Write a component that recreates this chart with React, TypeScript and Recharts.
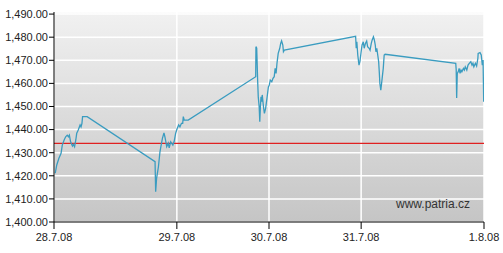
import React from "react";
import {
  CartesianGrid,
  Line,
  LineChart,
  ReferenceLine,
  XAxis,
  YAxis,
} from "recharts";

// x is in chart "slots": 28.7 at 0, 29.7 at 4, 30.7 at 7, 31.7 at 10, 1.8 at 14
const dayTicks = [0, 4, 7, 10, 14];
const dayLabels = ["28.7.08", "29.7.08", "30.7.08", "31.7.08", "1.8.08"];
const priceTicks = [1400, 1410, 1420, 1430, 1440, 1450, 1460, 1470, 1480, 1490];
const referencePrice = 1434;

const times = [
  0.04, 0.09, 0.16, 0.23, 0.27, 0.33, 0.38, 0.43, 0.47, 0.5, 0.54, 0.6, 0.63,
  0.67, 0.71, 0.74, 0.79, 0.85, 0.88, 0.91, 0.93, 1.08,
  3.29, 3.31, 3.34, 3.4, 3.45, 3.48, 3.53, 3.58, 3.61, 3.67, 3.72, 3.75, 3.8,
  3.87, 3.91, 3.96, 4.01, 4.06, 4.1, 4.15, 4.19, 4.21, 4.24, 4.37,
  6.567, 6.575, 6.6, 6.63, 6.65, 6.68, 6.7, 6.72, 6.74, 6.76, 6.78, 6.82, 6.85,
  6.89, 6.94, 6.98, 7.01, 7.04, 7.09, 7.13, 7.17, 7.2, 7.23, 7.26, 7.3, 7.35,
  7.38, 7.41, 7.45, 7.47, 7.5,
  9.82, 9.84, 9.86, 9.89, 9.93, 9.96, 10.0, 10.03, 10.07, 10.1, 10.14, 10.18,
  10.21, 10.26, 10.29, 10.33, 10.36, 10.4, 10.43, 10.46, 10.48, 10.51, 10.54,
  10.57, 10.59, 10.61, 10.64, 10.66, 10.69, 10.72, 10.75, 10.78,
  13.08, 13.095, 13.11, 13.13, 13.16, 13.19, 13.22, 13.25, 13.28, 13.33, 13.36,
  13.39, 13.44, 13.48, 13.52, 13.57, 13.61, 13.64, 13.67, 13.72, 13.76, 13.8,
  13.81, 13.87, 13.91, 13.945, 13.97, 13.99,
];

const prices = [
  1421.1, 1424.7, 1427.6, 1429.7, 1433.3, 1435.5, 1436.9, 1437.6, 1436.9,
  1437.6, 1434.7, 1432.9, 1433.6, 1432.6, 1435.5, 1438.4, 1439.8, 1442.0,
  1441.2, 1442.7, 1445.6, 1445.6,
  1426.1, 1413.1, 1418.9, 1423.9, 1430.4, 1432.6, 1436.2, 1438.6, 1436.9,
  1432.6, 1434.1, 1432.1, 1434.7, 1433.3, 1434.7, 1438.4, 1440.5, 1442.0,
  1441.2, 1442.7, 1442.7, 1445.6, 1444.1, 1444.1,
  1462.9, 1475.9, 1475.2, 1461.4, 1454.2, 1449.9, 1443.4, 1449.9, 1454.2,
  1452.1, 1455.0, 1449.9, 1447.0, 1449.2, 1454.2, 1458.5, 1459.3, 1461.4,
  1460.7, 1462.2, 1462.9, 1466.5, 1464.3, 1468.7, 1473.0, 1475.2, 1477.3,
  1478.4, 1476.6, 1473.7, 1474.4,
  1480.4, 1475.2, 1478.0, 1472.3, 1467.9, 1469.4, 1473.7, 1476.6, 1478.0,
  1475.2, 1477.3, 1478.3, 1475.9, 1475.2, 1474.4, 1477.3, 1478.8, 1480.2,
  1478.8, 1476.6, 1473.7, 1475.2, 1472.3, 1469.4, 1465.0, 1460.0, 1457.1,
  1459.3, 1462.9, 1466.5, 1472.3, 1472.6,
  1468.7, 1465.8, 1453.7, 1464.3, 1465.0, 1466.5, 1464.3, 1465.8, 1465.0,
  1466.5, 1465.8, 1467.2, 1465.8, 1467.9, 1468.7, 1469.4, 1467.9, 1468.7,
  1467.2, 1468.7, 1467.5, 1470.8, 1473.0, 1473.3, 1472.3, 1467.9, 1470.1,
  1452.1,
];

const rows = times.map((t, i) => ({ t, price: prices[i] }));

const axisTick = {
  fill: "#222",
  fontSize: 11,
  fontFamily: "'Liberation Sans', Arial, sans-serif",
};

export default function App() {
  return (
    <div
      style={{
        position: "absolute",
        left: 0,
        top: 0,
        width: 503,
        height: 253,
        background: "#fff",
      }}
    >
      <LineChart
        width={503}
        height={253}
        data={rows}
        margin={{ top: 12, right: 19, left: 0, bottom: 0 }}
      >
        <defs>
          <linearGradient id="plotBg" x1="0" y1="0" x2="0" y2="1">
            <stop offset="0%" stopColor="#f1f1f1" />
            <stop offset="100%" stopColor="#c5c5c5" />
          </linearGradient>
        </defs>
        <CartesianGrid
          fill="url(#plotBg)"
          fillOpacity={1}
          stroke="#ffffff"
          strokeWidth={1.5}
        />
        <XAxis
          dataKey="t"
          type="number"
          domain={[0, 14]}
          ticks={dayTicks}
          tickFormatter={(v) => dayLabels[dayTicks.indexOf(v)] ?? ""}
          tick={axisTick}
          tickSize={7}
          tickMargin={4}
          height={31}
          axisLine={{ stroke: "#000" }}
          tickLine={{ stroke: "#000" }}
          interval={0}
          allowDataOverflow
        />
        <YAxis
          type="number"
          domain={[1400, 1490.9]}
          ticks={priceTicks}
          tickFormatter={(v) =>
            Number(v).toLocaleString("en-US", {
              minimumFractionDigits: 2,
              maximumFractionDigits: 2,
            })
          }
          tick={axisTick}
          tickSize={5}
          tickMargin={1}
          width={54}
          axisLine={{ stroke: "#000" }}
          tickLine={{ stroke: "#000" }}
          interval={0}
          allowDataOverflow
        />
        <ReferenceLine
          y={referencePrice}
          stroke="#e02020"
          strokeWidth={1.3}
          strokeOpacity={1}
        />
        <Line
          type="linear"
          dataKey="price"
          stroke="#3a9cc0"
          strokeWidth={1.3}
          dot={false}
          activeDot={false}
          isAnimationActive={false}
        />
      </LineChart>
      <div
        style={{
          position: "absolute",
          left: 396,
          top: 197,
          fontSize: 12,
          fontFamily: "'Liberation Sans', Arial, sans-serif",
          color: "#333",
          whiteSpace: "nowrap",
        }}
      >
        www.patria.cz
      </div>
    </div>
  );
}
